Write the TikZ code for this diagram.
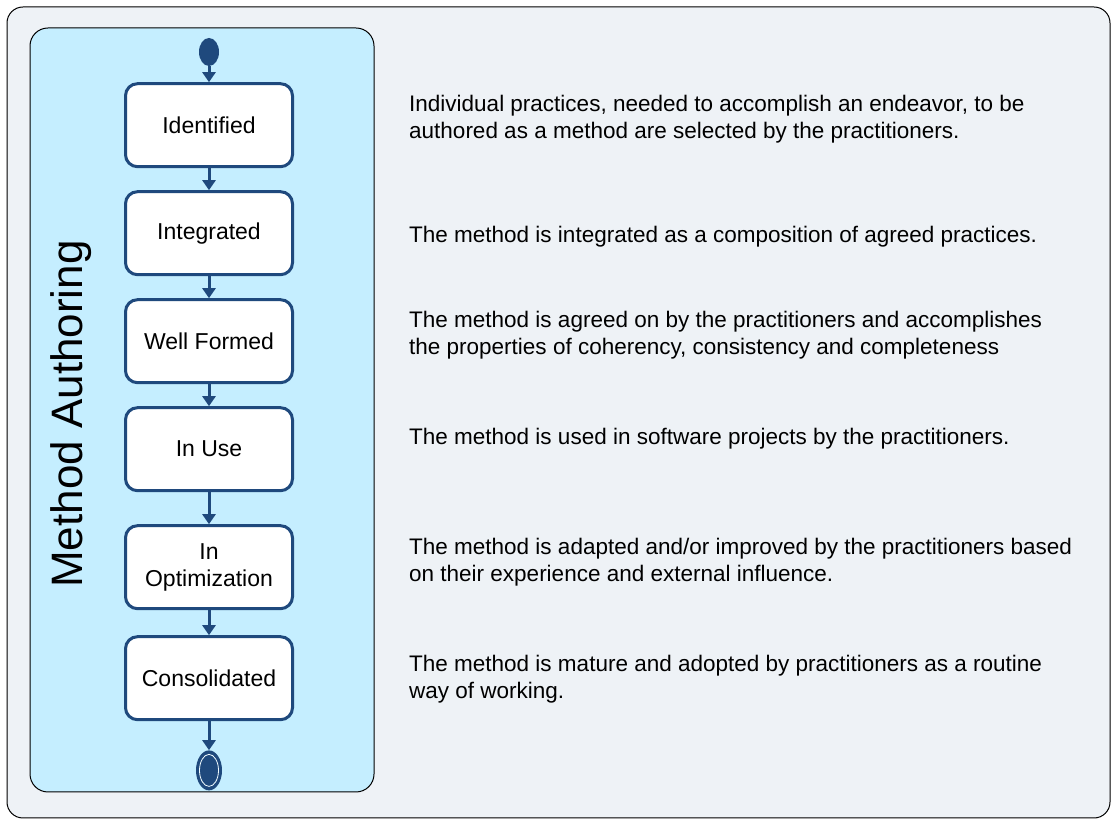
\documentclass[tikz,border=0pt]{standalone}
\usepackage{fontspec}
\setmainfont{Liberation Sans}
\usetikzlibrary{positioning,arrows.meta,shapes.geometric}

\definecolor{stateblue}{RGB}{31,73,125}
\definecolor{lanefill}{RGB}{197,238,255}
\definecolor{framefill}{RGB}{238,242,246}

\begin{document}
\begin{tikzpicture}[x=1pt, y=1pt, node distance=22pt,
    stage/.style={draw=stateblue, line width=3pt, fill=white, rounded corners=12pt,
        minimum width=167pt, minimum height=83pt, align=center, inner sep=2pt,
        font=\fontsize{23}{27}\selectfont},
    desc/.style={align=left, inner sep=0pt, font=\fontsize{22.5}{27}\selectfont},
    flow/.style={stateblue, line width=3pt, -{Triangle[width=13pt,length=10pt]}}]
    \useasboundingbox (0,0) rectangle (1113,821);

    % frame and swimlane
    \draw[fill=framefill, line width=1pt, rounded corners=16pt] (7,3) rectangle (1110,814);
    \draw[fill=lanefill, line width=1pt, rounded corners=18pt] (30,29) rectangle (374,793);
    \node[rotate=90, font=\fontsize{44}{44}\selectfont] (lane) at (71,407) {Method Authoring};

    % states
    \node[ellipse, fill=stateblue, inner sep=0pt, minimum width=20pt, minimum height=28pt] (start) at (209,769) {};
    \node[stage] (ident) [below=16pt of start] {Identified};
    \node[stage] (integ) [below=of ident] {Integrated};
    \node[stage] (formed) [below=of integ] {Well Formed};
    \node[stage] (inuse) [below=of formed] {In Use};
    \node[stage] (optim) [below=32pt of inuse] {In\\Optimization};
    \node[stage] (consol) [below=25pt of optim] {Consolidated};
    \node[ellipse, fill=stateblue, inner sep=0pt, minimum width=26pt, minimum height=40pt] (finish) [below=29pt of consol] {};
    \draw[white!75!lanefill, line width=0.8pt] (finish.center) ellipse (9.5pt and 16pt);

    \draw[flow] (start) -- (ident);
    \draw[flow] (ident) -- (integ);
    \draw[flow] (integ) -- (formed);
    \draw[flow] (formed) -- (inuse);
    \draw[flow] (inuse) -- (optim);
    \draw[flow] (optim) -- (consol);
    \draw[flow] (consol) -- (finish);

    % descriptions
    \node[desc, right=115pt of ident, yshift=6pt] (identTxt) {Individual practices, needed to accomplish an endeavor, to be\\authored as a method are selected by the practitioners.};
    \node[desc, right=115pt of integ, yshift=-3pt] (integTxt) {The method is integrated as a composition of agreed practices.};
    \node[desc, right=115pt of formed, yshift=6pt] (formedTxt) {The method is agreed on by the practitioners and accomplishes\\the properties of coherency, consistency and completeness};
    \node[desc, right=115pt of inuse, yshift=11pt] (inuseTxt) {The method is used in software projects by the practitioners.};
    \node[desc, right=115pt of optim, yshift=5pt] (optimTxt) {The method is adapted and/or improved by the practitioners based\\on their experience and external influence.};
    \node[desc, right=115pt of consol, yshift=-1pt] (consolTxt) {The method is mature and adopted by practitioners as a routine\\way of working.};
\end{tikzpicture}
\end{document}
